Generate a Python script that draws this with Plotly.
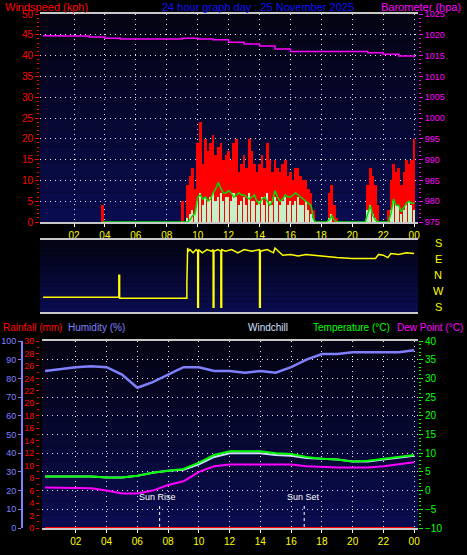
import numpy as np
import plotly.graph_objects as go

# ---------------- data ----------------
hours = list(range(0, 25))
baro = [1019.8,1019.7,1019.7,1019.5,1019.2,1019.0,1019.0,1019.0,1019.0,1019.2,1019.0,1018.8,1018.2,
        1017.8,1017.3,1016.6,1016.0,1016.0,1016.0,1016.0,1016.0,1015.7,1015.3,1014.9,1014.5]

wind_times = [3.83, 3.9] + list(np.round(np.arange(9, 24.01, 1/6), 3))
gust = [4, 0,
        5,0,9,11,13,8, 19,24,14,20,17,19, 21,16,18,19,15,16, 17,15,19,20,12,14,
        16,13,20,17,14,12, 14,16,13,19,15,12, 15,13,12,14,15,11, 12,10,13,13,11,10,
        10,8,7,3,0,0, 0,0,0, 7,9,4,1, 0,0,0,0,0,0,0,0,0,0,0,
        9,13,11,9,4,0, 0,0, 3,10,14,12,13,9,12,15,14,15,20]
speed = [0, 0,
         0,0,1,2,3,2, 5,7,4,6,5,6, 7,5,6,7,5,6, 6,5,7,6,4,5, 6,4,7,5,5,4,
         5,6,4,7,5,4, 6,5,4,5,6,4, 5,4,5,6,4,4, 5,3,2,1,0,0, 0,0,0, 1,2,0,0,
         0,0,0,0,0,0,0,0,0,0,0, 3,4,2,1,0,0, 0,0, 0,3,5,4,4,2,3,4,5,4,3]
avg = [0, 0,
       0,0,0,0.5,1.5,2, 6,6.5,5.5,6,5,5.5, 7,8,9.5,8,7,7, 7.5,7,6,6.5,7,6.5,
       6.5,6,5.5,6,6.5,5, 4.5,5.5,6,5,4,5, 7.5,6,5,5.5,6.5,6, 6,6.5,7,6.5,6,5.5,
       5,4.5,4,0.5,0,0, 0,0,0, 0.5,1.5,0.5,0, 0,0,0,0,0,0,0,0,0,0,0,
       2,4,1.5,0.5,0,0, 0,0, 0,2,5.5,4,4,2.5,3.5,4.5,5,4.5,4.5]

dir_t = [0,4.9,4.9,4.95,4.95, 9.3,9.3,9.35,9.4,9.5,9.7,9.9, 10.0,10.0,10.05,10.05,10.3,10.6,10.9,
         11.0,11.0,11.05,11.05,11.3,11.5,11.5,11.55,11.55,11.8, 12.2,12.6,13.0,13.5,13.9,
         14.0,14.0,14.05,14.05,14.5,14.9, 15.0,15.5,16,16.5,17,17.5,18,18.5,19,20,
         21,21.5,21.7,22,22.3,22.5,23,23.5,24]
dir_v = [0.62,0.62,2.0,2.0,0.56, 0.56,1.5,3.7,3.5,3.6,3.4,3.6, 3.5,0,0,3.6,3.4,3.6,3.5,
         3.6,0,0,3.5,3.6,3.5,0,0,3.6,3.5, 3.6,3.4,3.6,3.5,3.6,
         3.6,0,0,3.5,3.6,3.4, 3.7,3.25,3.3,3.2,3.3,3.25,3.2,3.15,3.1,3.05,
         3.05,3.05,3.3,3.25,3.1,3.35,3.3,3.4,3.35]
compass = ["S", "E", "N", "W", "S"]

temp = [3.8,3.8,3.8,3.8,3.5,3.5,4.0,4.8,5.3,5.8,7.5,9.5,10.5,10.5,10.5,10.0,9.8,9.0,8.5,8.3,7.8,8.0,8.5,9.0,9.5]
chill = [3.8,3.8,3.8,3.8,3.5,3.5,4.0,4.8,5.3,5.6,7.0,9.0,10.0,10.0,10.0,9.5,9.3,8.7,8.5,8.3,7.8,7.8,8.3,8.7,9.3]
dew = [0.8,0.8,0.8,0.6,0.0,-0.8,-0.8,0.0,1.5,2.5,5.0,6.5,7.0,7.0,7.0,7.0,7.0,6.5,6.3,6.2,6.2,6.2,6.5,7.0,7.6]
hum = [84,85,86,86.5,86,82,75,78,82,86,86,84,84,83,84,83,86,90,93,93,94,94,94,94,95]
rain = [0]*25
sun_rise, sun_set = 7.45, 16.85
tick_vals = list(range(2, 25, 2))
tick_text = ["02","04","06","08","10","12","14","16","18","20","22","00"]

# ---------------- layout helpers ----------------
W, H = 467, 555
def px(x): return x / W
def py(y): return 1 - y / H

FONT = "Liberation Sans"
fig = go.Figure()

xr = [-0.2, 24.25]
GRID = dict(showgrid=True, gridcolor="rgba(255,255,255,0.9)", griddash="1px,4px", gridwidth=1)
common_x = dict(range=xr, tickvals=tick_vals, zeroline=False, showline=True, linecolor="#c8c8c8",
                linewidth=2, mirror=True, ticks="outside", ticklen=3, tickcolor="white",
                automargin=False, tickfont=dict(color="yellow", size=10, family=FONT), **GRID)

# Top panel
fig.add_trace(go.Bar(x=wind_times, y=gust, marker_color="red", marker_line_width=0, width=1/6,
                     xaxis="x", yaxis="y", showlegend=False))
fig.add_trace(go.Bar(x=wind_times, y=speed, marker_color="#c8f0c8", marker_line_width=0, width=0.1,
                     xaxis="x", yaxis="y", showlegend=False))
fig.add_trace(go.Scatter(x=wind_times, y=avg, mode="lines", line=dict(color="#00e000", width=1.5),
                         xaxis="x", yaxis="y", showlegend=False))
fig.add_trace(go.Scatter(x=hours, y=baro, mode="lines", line=dict(color="magenta", width=1.5, shape="hv"),
                         xaxis="x", yaxis="y2", showlegend=False))
# Middle panel
fig.add_trace(go.Scatter(x=dir_t, y=dir_v, mode="lines", line=dict(color="yellow", width=1.5),
                         xaxis="x2", yaxis="y3", showlegend=False))
# Bottom panel
fig.add_trace(go.Scatter(x=hours, y=rain, mode="lines", line=dict(color="red", width=2),
                         xaxis="x3", yaxis="y4", showlegend=False))
fig.add_trace(go.Scatter(x=hours, y=hum, mode="lines", line=dict(color="#8080ff", width=2.5),
                         xaxis="x3", yaxis="y5", showlegend=False))
fig.add_trace(go.Scatter(x=hours, y=dew, mode="lines", line=dict(color="magenta", width=2),
                         xaxis="x3", yaxis="y6", showlegend=False))
fig.add_trace(go.Scatter(x=hours, y=chill, mode="lines", line=dict(color="#d0e0ff", width=2),
                         xaxis="x3", yaxis="y6", showlegend=False))
fig.add_trace(go.Scatter(x=hours, y=temp, mode="lines", line=dict(color="#00ff00", width=2),
                         xaxis="x3", yaxis="y6", showlegend=False))

xdom = [px(40), px(418)]
TF = lambda c, s=10: dict(color=c, size=s, family=FONT)
layout = dict(
    width=W, height=H, margin=dict(l=0, r=0, t=0, b=0, autoexpand=False),
    paper_bgcolor="black", plot_bgcolor="rgba(0,0,0,0)", barmode="overlay", bargap=0,
    font=dict(family=FONT, color="white"),
    xaxis=dict(domain=xdom, anchor="y", ticktext=tick_text, **common_x),
    yaxis=dict(domain=[py(222), py(14)], range=[0, 50], dtick=5, zeroline=False, ticks="outside",
               ticklen=4, tickcolor="red", tickfont=TF("red"), showline=False, automargin=False,
               minor=dict(ticks="outside", ticklen=2, tickcolor="red", dtick=1), **GRID),
    yaxis2=dict(overlaying="y", side="right", anchor="x", range=[975, 1025], dtick=5, showgrid=False,
                ticks="outside", ticklen=4, tickcolor="magenta", zeroline=False, automargin=False,
                tickfont=TF("magenta", 9),
                minor=dict(ticks="outside", ticklen=2, tickcolor="magenta", dtick=1)),
    xaxis2=dict(domain=xdom, anchor="y3", range=xr, showticklabels=False, showgrid=False,
                automargin=False, showline=True, linecolor="#c8c8c8", linewidth=2, mirror=True,
                zeroline=False),
    yaxis3=dict(domain=[py(312), py(240)], range=[-0.3, 4.2], showticklabels=False, showgrid=False,
                zeroline=False, showline=False, automargin=False),
    xaxis3=dict(domain=[px(42), px(418)], anchor="y4", ticktext=tick_text, **common_x),
    yaxis4=dict(domain=[py(528), py(341)], range=[0, 30], dtick=2, showgrid=False, zeroline=False,
                ticks="outside", ticklen=3, tickcolor="red", automargin=False, tickfont=TF("red", 9),
                minor=dict(ticks="outside", ticklen=2, tickcolor="red", dtick=1)),
    yaxis5=dict(overlaying="y4", anchor="free", position=px(22), side="left", range=[0, 100], dtick=10,
                showgrid=False, zeroline=False, showline=True, linecolor="#8080ff", linewidth=2,
                ticks="outside", ticklen=3, tickcolor="#8080ff", automargin=False,
                tickfont=TF("#8080ff", 9)),
    yaxis6=dict(overlaying="y4", side="right", anchor="x3", range=[-10, 40], dtick=5,
                zeroline=False, ticks="outside", ticklen=4, automargin=False,
                tickcolor="#00ff00", tickfont=TF("#00ff00"),
                minor=dict(ticks="outside", ticklen=2, tickcolor="#00ff00", dtick=1), **GRID),
)
fig.update_layout(**layout)

# gradient backgrounds
shapes = []
def gradient(xref, yref, n=14):
    for i in range(n):
        f = i / (n - 1)
        col = "rgb(%d,%d,%d)" % (int(4 + 6 * f), int(4 + 8 * f), int(20 + 60 * f))
        shapes.append(dict(type="rect", xref=xref + " domain", yref=yref + " domain",
                           x0=0, x1=1, y0=1 - (i + 1) / n, y1=1 - i / n,
                           fillcolor=col, line_width=0, layer="below"))
gradient("x", "y"); gradient("x2", "y3"); gradient("x3", "y4")
for t in [sun_rise, sun_set]:
    shapes.append(dict(type="line", xref="x3", yref="paper", x0=t, x1=t, y0=py(527), y1=py(503),
                       line=dict(color="white", width=1, dash="dot")))
fig.update_layout(shapes=shapes)

ann = []
def text(x, y, s, color, size=10, xanchor="left"):
    ann.append(dict(x=px(x), y=py(y), xref="paper", yref="paper", text=s, showarrow=False,
                    xanchor=xanchor, yanchor="middle", font=dict(color=color, size=size, family=FONT)))
text(3, 7, "Windspeed (kph)", "red", 11)
text(258, 7, "24 hour graph day : 25 November 2025", "#1010ff", 11, xanchor="center")
text(463, 7, "Barometer (hpa)", "magenta", 11, xanchor="right")
text(1, 327, "Rainfall (mm)", "red")
text(66, 327, "Humidity (%)", "#8080ff")
text(246, 327, "Windchill", "#d0e0ff")
text(311, 327, "Temperature (°C)", "#00ff00")
text(465, 327, "Dew Point (°C)", "magenta", xanchor="right")
for i, c in enumerate(compass):
    text(438, 243 + 16 * i, c, "yellow", size=11, xanchor="center")
text(157, 497, "Sun Rise", "white", size=9, xanchor="center")
text(303, 497, "Sun Set", "white", size=9, xanchor="center")
fig.update_layout(annotations=ann)

fig.write_html("out.html", config={"displayModeBar": False},
               post_script="document.body.style.margin='0px';")
